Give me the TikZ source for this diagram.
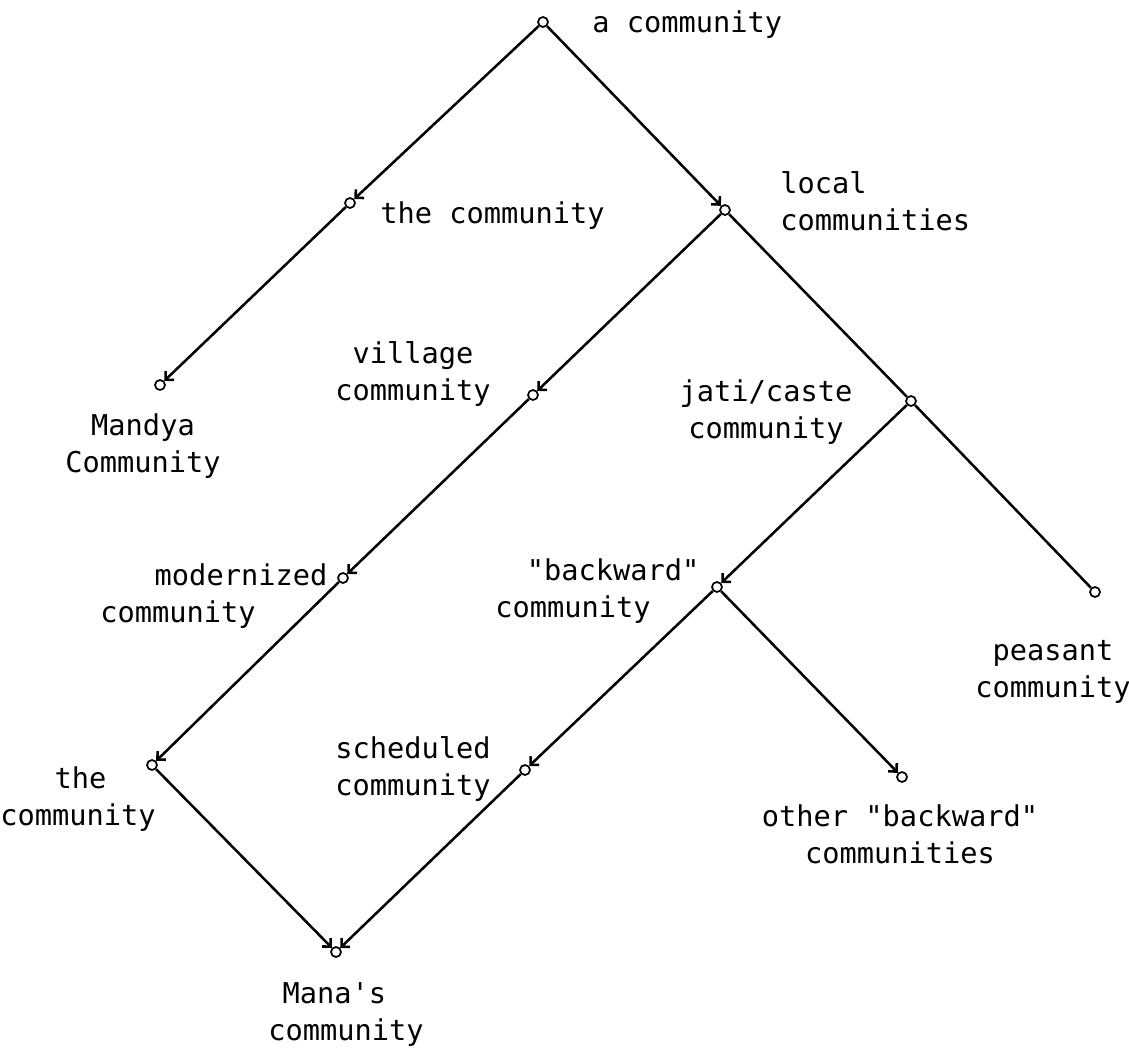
\documentclass[tikz,border=0pt]{standalone}
\usepackage{fontspec}
\newfontfamily\lblfont{DejaVu Sans Mono}
\usetikzlibrary{arrows.meta}
\begin{document}
\begin{tikzpicture}[x=0.75pt, y=-0.75pt,
  main/.style = {draw, circle, line width=1.3pt, inner sep=0pt, minimum size=7.5pt},
  txt/.style = {font=\lblfont\fontsize{21.5}{27.75}\selectfont, inner sep=0pt, anchor=base},
  link/.style = {line width=1.9pt, -{Straight Barb[length=4.5pt,width=9pt]}},
  plain/.style = {line width=1.9pt}]
\useasboundingbox (0,0) rectangle (1129,1054);
\node[main] (1) at (543,22) {};
\node[main] (2) at (350,203) {};
\node[main] (3) at (725,210) {};
\node[main] (4) at (160,385) {};
\node[main] (5) at (533,395) {};
\node[main] (6) at (911,401) {};
\node[main] (7) at (343,578) {};
\node[main] (8) at (717,587) {};
\node[main] (9) at (1095,592) {};
\node[main] (10) at (152,765) {};
\node[main] (11) at (525,770) {};
\node[main] (12) at (902,777) {};
\node[main] (13) at (336,952) {};
\node[txt, anchor=base west] (t1) at (592,32) {a community};
\node[txt, anchor=base west] (t2) at (380,223) {the community};
\node[txt, anchor=base west, align=left] (t3) at (780,230) {local\\communities};
\node[txt, align=center] (t4) at (143,472) {Mandya\\Community};
\node[txt, align=center] (t5) at (413,400) {village\\community};
\node[txt, align=center] (t6) at (766,438) {jati/caste\\community};
\node[txt, anchor=base west, align=left] (t7) at (100,622) {\hspace*{1.9em}modernized\\community};
\node[txt, anchor=base west, align=left] (t8) at (495,617) {\hspace*{1.1em}"backward"\\community};
\node[txt, align=center] (t9) at (1053,697) {peasant\\community};
\node[txt, anchor=base west, align=left] (t10) at (0,825) {\hspace*{1.9em}the\\community};
\node[txt, align=center] (t11) at (413,795) {scheduled\\community};
\node[txt, align=center] (t12) at (900,863) {other "backward"\\communities};
\node[txt, anchor=base west, align=left] (t13) at (268,1040) {\hspace*{0.5em}Mana's\\community};
\draw[link] (1) -- (2);
\draw[link] (1) -- (3);
\draw[link] (2) -- (4);
\draw[link] (3) -- (5);
\draw[plain] (3) -- (6);
\draw[plain] (6) -- (9);
\draw[link] (6) -- (8);
\draw[link] (5) -- (7);
\draw[link] (7) -- (10);
\draw[link] (8) -- (11);
\draw[link] (8) -- (12);
\draw[link] (10) -- (13);
\draw[link] (11) -- (13);
\end{tikzpicture}
\end{document}
